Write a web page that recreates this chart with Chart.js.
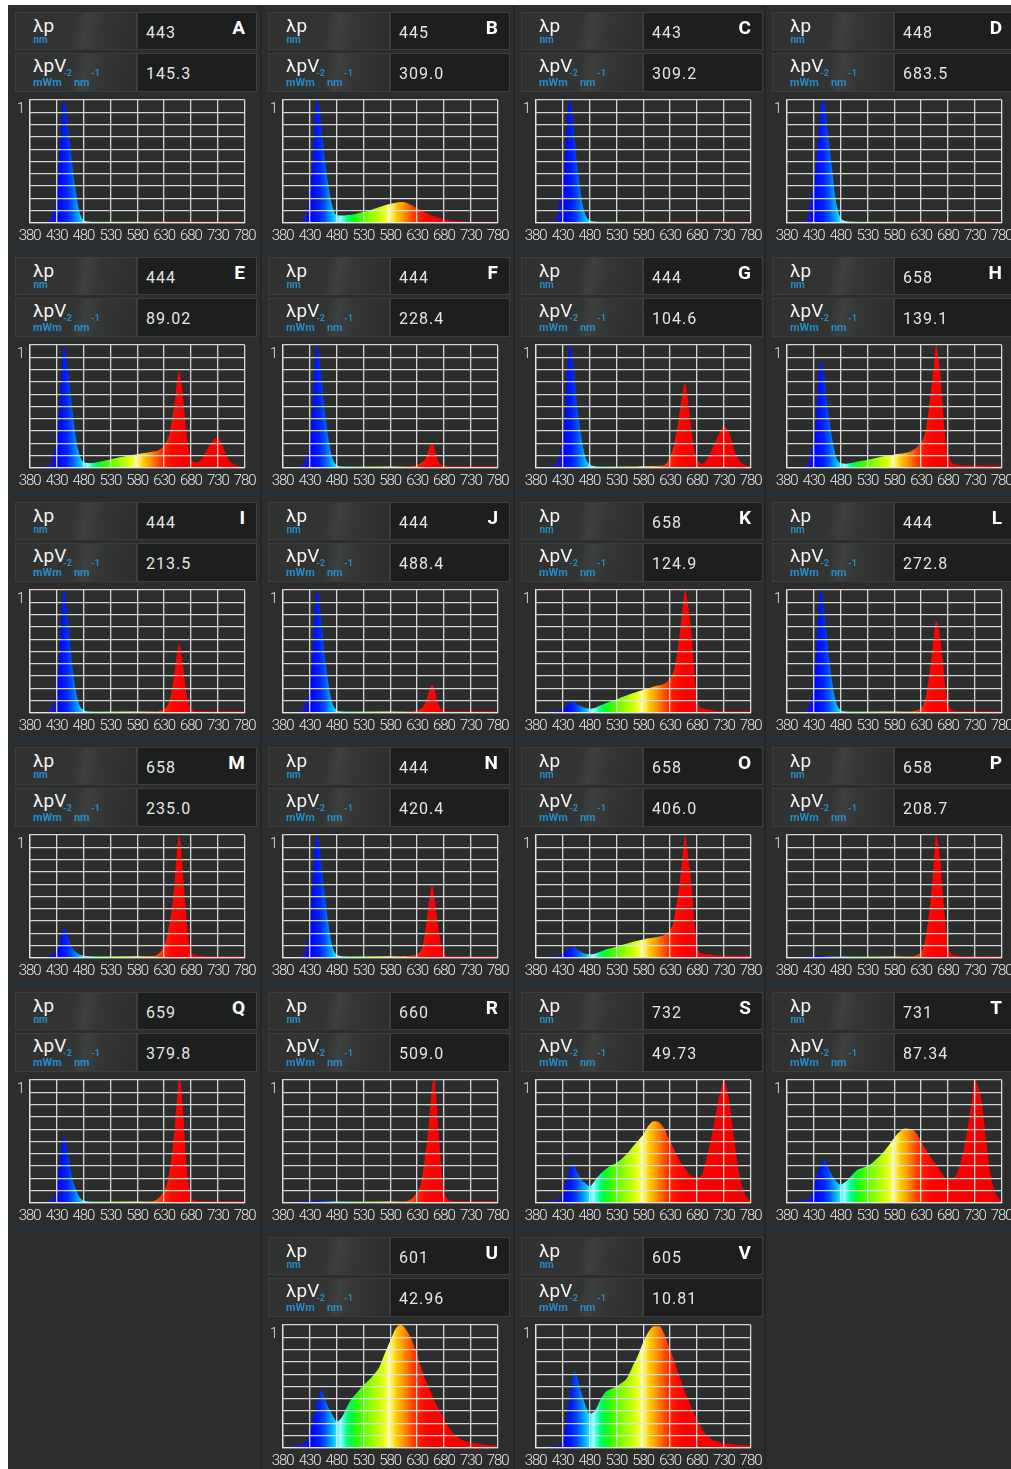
<!DOCTYPE html>
<html><head><meta charset="utf-8">
<script src="https://cdn.jsdelivr.net/npm/chart.js@4.4.1/dist/chart.umd.min.js"></script>
<style>
html,body{margin:0;padding:0;background:#fff;overflow:hidden;width:1011px;height:1469px;}
#stage{position:absolute;left:8px;top:5px;width:1003px;height:1464px;background:#2c2d2d;overflow:hidden;}
.panel{position:absolute;width:253px;height:245px;}
.box{position:absolute;box-sizing:border-box;border:1px solid #3c3d3d;}
.lab{left:7px;width:122px;background:linear-gradient(100deg,#303131 0%,#333434 48%,#3e3f3f 57%,#353636 68%,#2c2d2d 100%);}
.val{left:129px;width:120px;background:#1d1e1e;}
.r1{top:7px;height:38px}
.r2{top:48px;height:39px}
.t{position:absolute;white-space:nowrap;line-height:1;font-family:Roboto,'Liberation Sans',sans-serif;}
.sym{font-size:19px;color:#f2f2f2;left:25px;}
.unit{font-size:10px;font-weight:bold;color:#238bc6;left:25.5px;}
.unit2{font-size:11px;font-weight:bold;color:#238bc6;left:25px;}
.unit2 sup{font-size:9px;position:relative;top:-10px;vertical-align:baseline;line-height:0;margin:0 2px 0 1.5px;}
.num{font-size:16px;color:#e4e4e4;left:138px;letter-spacing:1px;}
.let{font-size:19px;font-weight:bold;color:#fff;right:16px;text-align:right;}
.hsep{position:absolute;left:0;width:1003px;height:2px;background:#1c3240;}
.vsep{position:absolute;top:0;width:2px;height:1464px;background:#242525;}
canvas{position:absolute;}
</style>
</head><body>
<div id="stage"></div>
<script>
const wavelengths = [380,390,400,410,420, 425,430,435,440, 444,448,452,456,460, 465,470,475,480,
  490,500,510,520,530,540,550,560,570,580,590,600,610,620,630,
  635,640,645,650,654,658,662,666,670,675,680, 690,700,710, 715,720,725,730,735,740,745,750, 760,770,780];
const xTickLabels = ['380','430','480','530','580','630','680','730','780'];
const yTickLabels = {'1':'1'};
const panelLetters = ['A','B','C','D','E','F','G','H','I','J','K','L','M','N','O','P','Q','R','S','T','U','V'];
const peakWavelengths = ['443','445','443','448','444','444','444','658','444','444','658','444','658','444','658','658','659','660','732','731','601','605'];
const peakValues = ['145.3','309.0','309.2','683.5','89.02','228.4','104.6','139.1','213.5','488.4','124.9','272.8','235.0','420.4','406.0','208.7','379.8','509.0','49.73','87.34','42.96','10.81'];

const spectrumA = [0.005,0.005,0.008,0.01,0.04, 0.1,0.15,0.5,0.9, 1.0,0.9,0.76,0.6,0.45, 0.28,0.14,0.06,0.025,
  0.012,0.01,0.01,0.01,0.01,0.01,0.01,0.01,0.01,0.01,0.01,0.01,0.011,0.012,0.012,
  0.012,0.012,0.012,0.012,0.012,0.012,0.012,0.012,0.012,0.012,0.012, 0.012,0.012,0.012,
  0.012,0.012,0.012,0.012,0.012,0.012,0.012,0.012, 0.012,0.011,0.01];
const spectrumB = [0.005,0.005,0.008,0.01,0.04, 0.1,0.18,0.45,0.88, 1.0,0.93,0.78,0.62,0.46, 0.31,0.18,0.1,0.065,
  0.06,0.065,0.07,0.08,0.09,0.1,0.115,0.13,0.145,0.155,0.165,0.17,0.165,0.145,0.12,
  0.108,0.096,0.085,0.075,0.068,0.06,0.054,0.048,0.042,0.035,0.029, 0.021,0.016,0.013,
  0.012,0.011,0.011,0.01,0.01,0.01,0.01,0.01, 0.01,0.01,0.01];
const spectrumC = [0.005,0.005,0.008,0.01,0.05, 0.2,0.24,0.55,0.92, 1.0,0.88,0.7,0.52,0.38, 0.21,0.1,0.045,0.02,
  0.012,0.01,0.01,0.01,0.01,0.01,0.01,0.01,0.01,0.01,0.01,0.01,0.01,0.011,0.012,
  0.012,0.012,0.012,0.012,0.012,0.012,0.012,0.012,0.012,0.012,0.012, 0.012,0.012,0.012,
  0.012,0.012,0.012,0.012,0.012,0.012,0.012,0.012, 0.012,0.011,0.01];
const spectrumD = [0.005,0.005,0.008,0.012,0.06, 0.23,0.28,0.5,0.75, 0.95,1.0,0.9,0.75,0.6, 0.42,0.22,0.11,0.045,
  0.016,0.012,0.011,0.01,0.01,0.01,0.01,0.01,0.01,0.01,0.01,0.01,0.011,0.012,0.012,
  0.012,0.012,0.012,0.012,0.012,0.012,0.012,0.012,0.012,0.012,0.012, 0.012,0.012,0.012,
  0.012,0.012,0.012,0.012,0.012,0.012,0.012,0.012, 0.012,0.011,0.01];
const spectrumE = [0.005,0.008,0.01,0.015,0.05, 0.15,0.2,0.45,0.85, 1.0,0.9,0.76,0.6,0.45, 0.27,0.15,0.08,0.05,
  0.04,0.043,0.05,0.06,0.07,0.08,0.09,0.098,0.105,0.112,0.12,0.127,0.134,0.145,0.18,
  0.22,0.28,0.4,0.55,0.7,0.78,0.7,0.55,0.36,0.17,0.08, 0.045,0.075,0.15,
  0.19,0.22,0.24,0.25,0.22,0.17,0.11,0.07, 0.03,0.015,0.01];
const spectrumF = [0.005,0.005,0.008,0.01,0.05, 0.1,0.18,0.45,0.88, 1.0,0.9,0.74,0.56,0.4, 0.24,0.12,0.055,0.025,
  0.012,0.012,0.012,0.012,0.012,0.012,0.012,0.012,0.012,0.012,0.012,0.012,0.013,0.015,0.025,
  0.035,0.05,0.07,0.13,0.18,0.2,0.17,0.1,0.05,0.025,0.018, 0.015,0.015,0.015,
  0.015,0.015,0.015,0.015,0.015,0.015,0.015,0.015, 0.015,0.015,0.015];
const spectrumG = [0.005,0.005,0.008,0.01,0.05, 0.12,0.2,0.48,0.88, 1.0,0.9,0.74,0.56,0.4, 0.25,0.13,0.06,0.03,
  0.015,0.013,0.013,0.013,0.013,0.013,0.013,0.013,0.013,0.014,0.015,0.016,0.018,0.025,0.09,
  0.15,0.25,0.37,0.52,0.63,0.69,0.6,0.46,0.31,0.15,0.075, 0.035,0.08,0.17,
  0.22,0.27,0.31,0.335,0.33,0.29,0.22,0.14, 0.055,0.025,0.015];
const spectrumH = [0.005,0.005,0.008,0.01,0.04, 0.14,0.18,0.42,0.78, 0.87,0.8,0.66,0.5,0.37, 0.23,0.12,0.06,0.04,
  0.035,0.04,0.05,0.058,0.066,0.075,0.085,0.095,0.103,0.11,0.116,0.122,0.135,0.16,0.21,
  0.25,0.34,0.5,0.68,0.84,1.0,0.9,0.76,0.52,0.25,0.11, 0.035,0.025,0.02,
  0.02,0.02,0.02,0.02,0.02,0.02,0.02,0.02, 0.02,0.018,0.015];
const spectrumI = [0.005,0.005,0.008,0.01,0.04, 0.1,0.16,0.45,0.88, 1.0,0.9,0.72,0.52,0.36, 0.2,0.1,0.045,0.025,
  0.012,0.012,0.012,0.012,0.012,0.012,0.012,0.012,0.012,0.012,0.012,0.012,0.012,0.015,0.03,
  0.05,0.1,0.2,0.35,0.48,0.56,0.48,0.36,0.22,0.08,0.035, 0.015,0.015,0.015,
  0.015,0.015,0.015,0.015,0.015,0.015,0.015,0.015, 0.015,0.015,0.015];
const spectrumJ = [0.005,0.005,0.008,0.01,0.05, 0.11,0.18,0.46,0.88, 1.0,0.9,0.74,0.56,0.4, 0.24,0.12,0.055,0.025,
  0.012,0.012,0.012,0.012,0.012,0.012,0.012,0.012,0.012,0.012,0.012,0.012,0.012,0.013,0.02,
  0.03,0.045,0.08,0.14,0.2,0.23,0.2,0.13,0.07,0.03,0.018, 0.015,0.015,0.015,
  0.015,0.015,0.015,0.015,0.015,0.015,0.015,0.015, 0.015,0.015,0.015];
const spectrumK = [0.005,0.008,0.01,0.012,0.02, 0.025,0.035,0.05,0.07, 0.085,0.09,0.085,0.075,0.065, 0.055,0.045,0.038,0.035,
  0.04,0.06,0.08,0.095,0.11,0.13,0.145,0.16,0.175,0.19,0.2,0.215,0.225,0.24,0.28,
  0.32,0.4,0.55,0.72,0.88,1.0,0.92,0.8,0.64,0.35,0.12, 0.035,0.03,0.02,
  0.015,0.015,0.015,0.015,0.015,0.015,0.015,0.015, 0.015,0.015,0.015];
const spectrumL = [0.005,0.005,0.008,0.01,0.05, 0.12,0.2,0.5,0.9, 1.0,0.9,0.74,0.56,0.4, 0.24,0.12,0.055,0.025,
  0.012,0.012,0.012,0.012,0.012,0.012,0.012,0.012,0.012,0.012,0.012,0.012,0.013,0.018,0.04,
  0.08,0.16,0.3,0.47,0.64,0.75,0.7,0.59,0.44,0.22,0.08, 0.02,0.015,0.015,
  0.015,0.015,0.015,0.015,0.015,0.015,0.015,0.015, 0.015,0.015,0.015];
const spectrumM = [0.005,0.005,0.008,0.01,0.025, 0.04,0.06,0.11,0.2, 0.25,0.22,0.16,0.115,0.08, 0.05,0.035,0.025,0.02,
  0.015,0.015,0.015,0.015,0.015,0.015,0.015,0.015,0.015,0.015,0.015,0.015,0.016,0.035,0.1,
  0.17,0.28,0.42,0.64,0.86,1.0,0.87,0.64,0.42,0.18,0.05, 0.02,0.018,0.015,
  0.015,0.015,0.015,0.015,0.015,0.015,0.015,0.015, 0.015,0.015,0.015];
const spectrumN = [0.005,0.005,0.008,0.01,0.04, 0.12,0.22,0.55,0.9, 1.0,0.92,0.76,0.6,0.45, 0.28,0.14,0.06,0.03,
  0.015,0.015,0.015,0.015,0.015,0.015,0.015,0.015,0.015,0.015,0.015,0.015,0.016,0.018,0.03,
  0.05,0.09,0.21,0.38,0.51,0.59,0.5,0.37,0.23,0.1,0.035, 0.015,0.015,0.015,
  0.015,0.015,0.015,0.015,0.015,0.015,0.015,0.015, 0.015,0.015,0.015];
const spectrumO = [0.005,0.008,0.01,0.012,0.02, 0.025,0.035,0.05,0.07, 0.085,0.09,0.085,0.072,0.06, 0.048,0.038,0.032,0.03,
  0.035,0.05,0.07,0.08,0.092,0.105,0.118,0.13,0.14,0.15,0.16,0.167,0.175,0.19,0.23,
  0.27,0.38,0.52,0.7,0.86,1.0,0.88,0.75,0.59,0.3,0.1, 0.035,0.03,0.025,
  0.02,0.02,0.02,0.02,0.02,0.02,0.02,0.02, 0.02,0.02,0.02];
const spectrumP = [0.005,0.008,0.01,0.012,0.015, 0.015,0.016,0.017,0.018, 0.018,0.018,0.017,0.016,0.015, 0.014,0.013,0.013,0.012,
  0.012,0.012,0.012,0.012,0.012,0.012,0.012,0.012,0.012,0.012,0.012,0.012,0.013,0.02,0.05,
  0.1,0.2,0.37,0.58,0.8,1.0,0.92,0.78,0.55,0.3,0.1, 0.025,0.018,0.015,
  0.015,0.015,0.015,0.015,0.015,0.015,0.015,0.015, 0.015,0.015,0.015];
const spectrumQ = [0.005,0.005,0.008,0.01,0.025, 0.05,0.12,0.3,0.47, 0.55,0.47,0.38,0.27,0.19, 0.12,0.07,0.035,0.02,
  0.012,0.012,0.012,0.012,0.012,0.012,0.012,0.012,0.012,0.012,0.012,0.012,0.015,0.04,0.1,
  0.15,0.25,0.42,0.63,0.85,1.0,0.94,0.7,0.43,0.17,0.045, 0.018,0.015,0.015,
  0.015,0.015,0.015,0.015,0.015,0.015,0.015,0.015, 0.015,0.015,0.015];
const spectrumR = [0.005,0.008,0.01,0.012,0.014, 0.015,0.016,0.016,0.017, 0.017,0.017,0.016,0.016,0.015, 0.015,0.014,0.014,0.013,
  0.013,0.013,0.013,0.013,0.013,0.013,0.013,0.013,0.013,0.013,0.013,0.013,0.015,0.035,0.085,
  0.115,0.23,0.38,0.55,0.75,0.95,1.0,0.85,0.58,0.3,0.1, 0.025,0.015,0.015,
  0.015,0.015,0.015,0.015,0.015,0.015,0.015,0.015, 0.015,0.015,0.015];
const spectrumS = [0.005,0.01,0.015,0.02,0.027, 0.04,0.08,0.14,0.22, 0.28,0.32,0.3,0.26,0.23, 0.19,0.17,0.15,0.135,
  0.18,0.235,0.275,0.305,0.326,0.36,0.4,0.455,0.505,0.557,0.63,0.665,0.655,0.6,0.5,
  0.46,0.41,0.37,0.33,0.3,0.28,0.255,0.235,0.22,0.21,0.21, 0.24,0.41,0.6,
  0.73,0.84,0.93,1.0,0.94,0.84,0.66,0.5, 0.21,0.07,0.015];
const spectrumT = [0.005,0.01,0.015,0.02,0.035, 0.06,0.12,0.2,0.27, 0.32,0.35,0.34,0.3,0.26, 0.22,0.19,0.165,0.15,
  0.175,0.22,0.265,0.285,0.3,0.33,0.37,0.415,0.47,0.53,0.58,0.605,0.6,0.575,0.5,
  0.46,0.43,0.39,0.36,0.335,0.31,0.285,0.26,0.235,0.2,0.185, 0.2,0.28,0.45,
  0.58,0.7,0.86,1.0,0.96,0.9,0.75,0.55, 0.22,0.07,0.02];
const spectrumU = [0.01,0.015,0.02,0.03,0.045, 0.07,0.11,0.2,0.3, 0.38,0.44,0.47,0.43,0.385, 0.33,0.29,0.25,0.215,
  0.25,0.34,0.41,0.46,0.51,0.55,0.6,0.66,0.77,0.87,0.97,1.0,0.96,0.88,0.76,
  0.69,0.62,0.56,0.51,0.47,0.43,0.39,0.355,0.32,0.28,0.24, 0.16,0.11,0.075,
  0.065,0.055,0.05,0.045,0.04,0.036,0.032,0.028, 0.025,0.022,0.02];
const spectrumV = [0.005,0.008,0.01,0.015,0.02, 0.025,0.06,0.16,0.33, 0.45,0.56,0.63,0.6,0.53, 0.45,0.38,0.32,0.28,
  0.3,0.39,0.455,0.48,0.5,0.53,0.57,0.66,0.75,0.86,0.945,0.99,0.99,0.92,0.8,
  0.74,0.68,0.61,0.55,0.5,0.45,0.41,0.37,0.33,0.28,0.24, 0.15,0.095,0.065,
  0.057,0.05,0.045,0.04,0.035,0.032,0.03,0.027, 0.024,0.022,0.02];

const spectra = [spectrumA,spectrumB,spectrumC,spectrumD,spectrumE,spectrumF,spectrumG,spectrumH,spectrumI,spectrumJ,spectrumK,
  spectrumL,spectrumM,spectrumN,spectrumO,spectrumP,spectrumQ,spectrumR,spectrumS,spectrumT,spectrumU,spectrumV];

// layout (row, column) of each panel
const panelCells = [[0,0],[0,1],[0,2],[0,3],[1,0],[1,1],[1,2],[1,3],[2,0],[2,1],[2,2],[2,3],
  [3,0],[3,1],[3,2],[3,3],[4,0],[4,1],[4,2],[4,3],[5,1],[5,2]];
const colX = [0,253,506,757];
const rowH = 245;

const spectrumStops = [[380,'#3a2a90'],[410,'#2a20b0'],[425,'#1010e0'],[435,'#0008ff'],[448,'#0020ff'],[458,'#0050ff'],
  [466,'#0088ff'],[474,'#00c0ff'],[481,'#30f0ff'],[487,'#a0ffff'],[493,'#40ffd0'],[500,'#00ff80'],[508,'#00ff30'],
  [520,'#30ff00'],[540,'#80ff00'],[560,'#c8ff00'],[572,'#f0ff30'],[578,'#ffffa0'],[584,'#fff040'],[592,'#ffc800'],
  [602,'#ffa000'],[612,'#ff7000'],[622,'#ff4000'],[632,'#ff2000'],[645,'#ff0800'],[660,'#ff0000'],[780,'#f00000']];

function spectrumFill(context){
  const chart = context.chart; const a = chart.chartArea;
  if(!a) return '#0020ff';
  const g = chart.ctx.createLinearGradient(a.left,0,a.right,0);
  spectrumStops.forEach(([w,c]) => g.addColorStop((w-380)/400, c));
  return g;
}

const narrowText = { id:'narrowText', beforeDraw(chart){ chart.ctx.letterSpacing = '-1.1px'; } };

const stage = document.getElementById('stage');
for (let r=0;r<5;r++){ const d=document.createElement('div'); d.className='hsep'; d.style.top=(rowH*r+244)+'px'; stage.appendChild(d); }
[253,506,757].forEach(x=>{ const d=document.createElement('div'); d.className='vsep'; d.style.left=(x-1)+'px'; stage.appendChild(d); });

const gridColor = 'rgba(228,228,228,0.92)';
const tickFont = {family:"Roboto,'Liberation Sans',sans-serif", size:15, weight:300};

panelCells.forEach(([r,c],i)=>{
  const p = document.createElement('div');
  p.className='panel'; p.style.left=colX[c]+'px'; p.style.top=(rowH*r)+'px';
  p.innerHTML =
    '<div class="box lab r1"></div><div class="box val r1"></div>'+
    '<div class="box lab r2"></div><div class="box val r2"></div>'+
    '<div class="t sym" style="top:11.3px">λp</div>'+
    '<div class="t unit" style="top:30px">nm</div>'+
    '<div class="t num" style="top:19.8px">'+peakWavelengths[i]+'</div>'+
    '<div class="t let" style="top:13.3px">'+panelLetters[i]+'</div>'+
    '<div class="t sym" style="top:50.6px">λpV</div>'+
    '<div class="t unit2" style="top:71.7px">mWm<sup>-2</sup>nm<sup>-1</sup></div>'+
    '<div class="t num" style="top:60.5px">'+peakValues[i]+'</div>';
  const cv = document.createElement('canvas');
  cv.width=250; cv.height=164;
  cv.style.left='4px'; cv.style.top='80px'; cv.style.width='250px'; cv.style.height='164px';
  p.appendChild(cv);
  stage.appendChild(p);
  const pts = wavelengths.map((w,k)=>({x:w,y:spectra[i][k]}));
  new Chart(cv.getContext('2d'),{
    type:'line',
    data:{datasets:[{data:pts, fill:'origin', backgroundColor:spectrumFill, borderColor:'rgba(0,0,0,0)', borderWidth:0,
      pointRadius:0, cubicInterpolationMode:'monotone'}]},
    plugins:[narrowText],
    options:{
      responsive:false, animation:false, devicePixelRatio:1, events:[],
      layout:{padding:{left:0,top:15,right:17.3,bottom:0}},
      plugins:{legend:{display:false},tooltip:{enabled:false}},
      scales:{
        x:{type:'linear', min:380, max:780,
          ticks:{stepSize:50, autoSkip:false, maxRotation:0, color:'#e6e6e6', font:tickFont, padding:4,
            callback:(v,k)=>xTickLabels[k]},
          grid:{color:gridColor, lineWidth:1.3, z:1, drawTicks:false},
          border:{color:gridColor, width:1.3, z:1},
          afterFit:(s)=>{s.height=26;}},
        y:{min:0, max:1,
          ticks:{stepSize:0.1, autoSkip:false, color:'#e6e6e6', font:{family:tickFont.family,size:14,weight:300}, padding:6, labelOffset:9,
            callback:(v)=>yTickLabels[String(Math.round(v*10)/10)] || ''},
          grid:{color:gridColor, lineWidth:1.3, z:1, drawTicks:false},
          border:{color:gridColor, width:1.3, z:1},
          afterFit:(s)=>{s.width=17.7;}}
      }
    }
  });
});
</script>
</body></html>
